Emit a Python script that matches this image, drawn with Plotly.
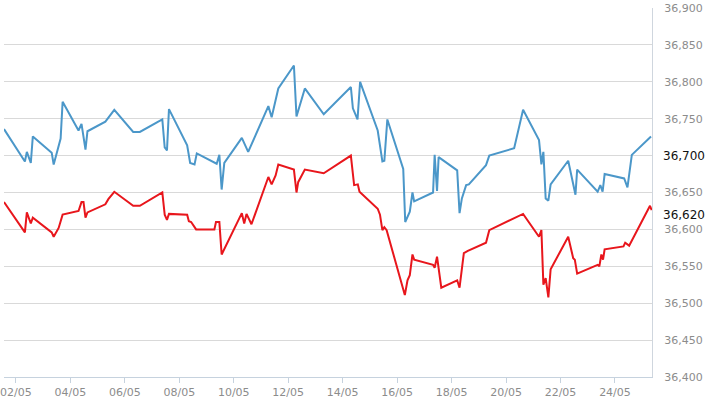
import plotly.graph_objects as go

# Blue series (timestamps, values)
blue_t = [
    "2024-05-01 13:30", "2024-05-02 07:55", "2024-05-02 09:38", "2024-05-02 13:08", "2024-05-02 14:54",
    "2024-05-03 07:32", "2024-05-03 09:17", "2024-05-03 15:25", "2024-05-03 17:10",
    "2024-05-04 07:11", "2024-05-04 09:49", "2024-05-04 13:19", "2024-05-04 15:04",
    "2024-05-05 06:50", "2024-05-05 14:43",
    "2024-05-06 07:22", "2024-05-06 13:14",
    "2024-05-07 09:02", "2024-05-07 11:08", "2024-05-07 13:09", "2024-05-07 14:54",
    "2024-05-08 06:56", "2024-05-08 09:34", "2024-05-08 13:25", "2024-05-08 15:26",
    "2024-05-09 08:57", "2024-05-09 11:19", "2024-05-09 13:20", "2024-05-09 15:40",
    "2024-05-10 07:07", "2024-05-10 12:43",
    "2024-05-11 06:30", "2024-05-11 09:24", "2024-05-11 15:16",
    "2024-05-12 05:01", "2024-05-12 07:18", "2024-05-12 14:39",
    "2024-05-13 07:18",
    "2024-05-14 07:13", "2024-05-14 09:00", "2024-05-14 13:05", "2024-05-14 15:22",
    "2024-05-15 06:53", "2024-05-15 11:00", "2024-05-15 12:44", "2024-05-15 15:22",
    "2024-05-16 05:23", "2024-05-16 07:08", "2024-05-16 11:10", "2024-05-16 13:31", "2024-05-16 15:01",
    "2024-05-17 07:40", "2024-05-17 09:04", "2024-05-17 11:10", "2024-05-17 12:34",
    "2024-05-18 04:56", "2024-05-18 07:00", "2024-05-18 09:04", "2024-05-18 12:50", "2024-05-18 15:12",
    "2024-05-19 06:20", "2024-05-19 09:13",
    "2024-05-20 07:08", "2024-05-20 15:01",
    "2024-05-21 05:03", "2024-05-21 07:09", "2024-05-21 08:54", "2024-05-21 10:55", "2024-05-21 13:17", "2024-05-21 15:18",
    "2024-05-22 06:47", "2024-05-22 13:11", "2024-05-22 14:40",
    "2024-05-23 08:44", "2024-05-23 11:05", "2024-05-23 13:06", "2024-05-23 14:53",
    "2024-05-24 08:07", "2024-05-24 11:01", "2024-05-24 14:51",
    "2024-05-25 07:46",
]
blue_v = [
    36736, 36692, 36705, 36690, 36726,
    36704, 36688, 36723, 36773,
    36734, 36743, 36708, 36733,
    36746, 36762,
    36732, 36732,
    36749, 36711, 36707, 36763,
    36714, 36690, 36688, 36703,
    36689, 36701, 36654, 36690,
    36724, 36705,
    36767, 36752, 36791,
    36822, 36753, 36791,
    36756,
    36793, 36764, 36749, 36800,
    36734, 36692, 36693, 36749,
    36682, 36610, 36624, 36650, 36638,
    36650, 36701, 36652, 36698,
    36680, 36622, 36642, 36660, 36661,
    36687, 36700,
    36710, 36762,
    36721, 36688, 36705, 36642, 36639, 36661,
    36693, 36647, 36681,
    36651, 36660, 36651, 36675,
    36669, 36657, 36701,
    36726,
]

# Red series (timestamps, values)
red_t = [
    "2024-05-01 13:30", "2024-05-02 07:55", "2024-05-02 09:38", "2024-05-02 13:08", "2024-05-02 14:54",
    "2024-05-03 07:32", "2024-05-03 09:17", "2024-05-03 13:40", "2024-05-03 17:10",
    "2024-05-04 07:11", "2024-05-04 09:49", "2024-05-04 11:34", "2024-05-04 13:19", "2024-05-04 15:04",
    "2024-05-05 06:50", "2024-05-05 09:28", "2024-05-05 14:43",
    "2024-05-06 07:22", "2024-05-06 13:14",
    "2024-05-07 09:02", "2024-05-07 11:08", "2024-05-07 13:09", "2024-05-07 14:54",
    "2024-05-08 06:56", "2024-05-08 08:26", "2024-05-08 10:27", "2024-05-08 14:49",
    "2024-05-09 06:56", "2024-05-09 08:20", "2024-05-09 11:19", "2024-05-09 13:20",
    "2024-05-10 07:07", "2024-05-10 09:13", "2024-05-10 11:14", "2024-05-10 15:37",
    "2024-05-11 06:30", "2024-05-11 09:24", "2024-05-11 12:54", "2024-05-11 15:16",
    "2024-05-12 05:01", "2024-05-12 07:18", "2024-05-12 08:47", "2024-05-12 14:39",
    "2024-05-13 07:18",
    "2024-05-14 07:13", "2024-05-14 10:06", "2024-05-14 13:20", "2024-05-14 14:50",
    "2024-05-15 06:53", "2024-05-15 08:53", "2024-05-15 11:00", "2024-05-15 12:44", "2024-05-15 14:45",
    "2024-05-16 06:47", "2024-05-16 09:08", "2024-05-16 11:10", "2024-05-16 13:31", "2024-05-16 15:01",
    "2024-05-17 07:40", "2024-05-17 09:04", "2024-05-17 11:10", "2024-05-17 14:55",
    "2024-05-18 04:56", "2024-05-18 07:00", "2024-05-18 10:48", "2024-05-18 14:18",
    "2024-05-19 06:20", "2024-05-19 09:13",
    "2024-05-20 15:01",
    "2024-05-21 05:03", "2024-05-21 07:09", "2024-05-21 08:54", "2024-05-21 10:55", "2024-05-21 13:17", "2024-05-21 15:18",
    "2024-05-22 06:47", "2024-05-22 11:11", "2024-05-22 12:36", "2024-05-22 14:40",
    "2024-05-23 08:44", "2024-05-23 10:13", "2024-05-23 12:00", "2024-05-23 13:28", "2024-05-23 14:53",
    "2024-05-24 07:30", "2024-05-24 09:00", "2024-05-24 12:30",
    "2024-05-25 06:53", "2024-05-25 08:22",
]
red_v = [
    36637, 36596, 36623, 36608, 36616,
    36596, 36590, 36602, 36620,
    36625, 36637, 36637, 36616, 36623,
    36634, 36641, 36651,
    36632, 36632,
    36650, 36620, 36613, 36621,
    36620, 36611, 36610, 36600,
    36600, 36610, 36610, 36566,
    36622, 36608, 36621, 36607,
    36671, 36661, 36673, 36688,
    36681, 36650, 36664, 36681,
    36676,
    36700, 36660, 36661, 36651,
    36628, 36620, 36599, 36603, 36599,
    36511, 36531, 36538, 36566, 36559,
    36552, 36548, 36563, 36521,
    36531, 36521, 36568, 36571,
    36582, 36599,
    36621,
    36590, 36599, 36525, 36534, 36508, 36546,
    36590, 36561, 36559, 36540,
    36552, 36550, 36566, 36559, 36573,
    36577, 36582, 36578,
    36632, 36626,
]

x_ticks = ["2024-05-%02d" % d for d in range(2, 25, 2)]
x_range = ["2024-05-01 13:30", "2024-05-25 08:38"]
y_ticks = list(range(36400, 36901, 50))
y_labels = ["" if v == 36700 else f"{v:,}" for v in y_ticks]
marked_values = [36700, 36620]

fig = go.Figure()
fig.add_trace(go.Scatter(x=blue_t, y=blue_v, mode="lines",
                         line=dict(color="#4b97c9", width=2), hoverinfo="skip"))
fig.add_trace(go.Scatter(x=red_t, y=red_v, mode="lines",
                         line=dict(color="#e8161c", width=2), hoverinfo="skip"))

for v in marked_values:
    fig.add_annotation(x=1, xref="paper", y=v, yref="y", text=f"{v:,}",
                       showarrow=False, xanchor="left", xshift=9,
                       font=dict(family="DejaVu Sans", size=12, color="#111111"))

fig.update_layout(
    width=710, height=399,
    margin=dict(l=0, r=58, t=8, b=19),
    paper_bgcolor="white", plot_bgcolor="white",
    showlegend=False,
    font=dict(family="DejaVu Sans", size=11, color="#8c8c8c"),
    xaxis=dict(type="date", range=x_range, tickvals=x_ticks, tickformat="%d/%m",
               showgrid=False, zeroline=False, showline=True, linecolor="#c6d2de",
               linewidth=1, ticks="outside", ticklen=5, tickcolor="#c6d2de",
               ticklabeloverflow="allow",
               tickfont=dict(family="DejaVu Sans", size=11, color="#8c8c8c")),
    yaxis=dict(side="right", range=[36400, 36900], tickvals=y_ticks, ticktext=y_labels,
               showgrid=True, gridcolor="#d9d9d9", gridwidth=1, zeroline=False,
               showline=True, linecolor="#cfd6de", linewidth=1, mirror=False,
               ticks="", ticklabelstandoff=9,
               tickfont=dict(family="DejaVu Sans", size=11, color="#8c8c8c")),
)

fig.write_html("out.html", config={"displayModeBar": False},
               post_script="document.body.style.margin='0';document.body.style.overflow='hidden';")
